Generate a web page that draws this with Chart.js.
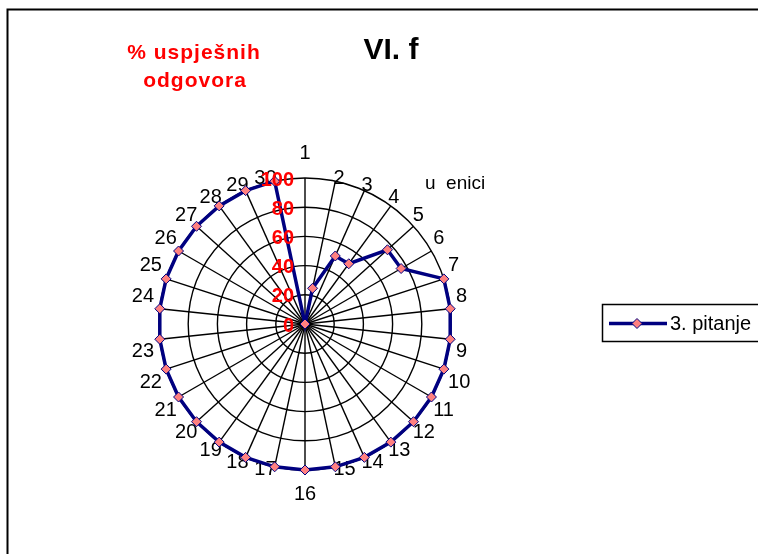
<!DOCTYPE html>
<html>
<head>
<meta charset="utf-8">
<title>VI. f</title>
<script src="https://cdn.jsdelivr.net/npm/chart.js@4.4.1/dist/chart.umd.min.js"></script>
<style>
  html, body { margin: 0; padding: 0; background: #fff; overflow: hidden; }
  canvas { display: block; }
</style>
</head>
<body>
<canvas id="radar" width="758" height="554"></canvas>
<script>
// data
const categories = ['1', '2', '3', '4', '5', '6', '7', '8', '9', '10',
  '11', '12', '13', '14', '15', '16', '17', '18', '19', '20',
  '21', '22', '23', '24', '25', '26', '27', '28', '29', '30'];
const seriesName = '3. pitanje';
const seriesValues = [0, 25, 51, 51, 76, 76, 100, 100, 100, 100,
  100, 100, 100, 100, 100, 100, 100, 100, 100, 100,
  100, 100, 100, 100, 100, 100, 100, 100, 100, 100];
const tickValues = [0, 20, 40, 60, 80, 100];
const chartTitle = 'VI. f';
const axisTitle = ['% uspješnih', 'odgovora'];
const seriesTitle = 'u  enici';

const FONT = 'Arial, "Liberation Sans", sans-serif';
const NAVY = '#000080';
const PINK = '#ff8080';

// Excel-like label placement: further out at top/bottom, tight elsewhere
function labelPadding(ctx) {
  const i = ctx.index;
  if (i === 0) return 13;
  if (i === categories.length / 2) return 12;
  const a = i * 2 * Math.PI / categories.length;
  return -10 + 16 * Math.sin(a) * Math.sin(a);
}

// red tick numbers left of the vertical spoke
const tickLabels = {
  id: 'tickLabels',
  afterDatasetsDraw(chart) {
    const s = chart.scales.r;
    const ctx = chart.ctx;
    ctx.save();
    ctx.font = 'bold 20px ' + FONT;
    ctx.fillStyle = '#ff0000';
    ctx.textAlign = 'right';
    ctx.textBaseline = 'middle';
    s.ticks.forEach(t => {
      const d = s.getDistanceFromCenterForValue(t.value);
      ctx.fillText(t.label, s.xCenter - 11, s.yCenter - d + 2);
    });
    ctx.restore();
  }
};

// frame, titles and the legend box
const decorations = {
  id: 'decorations',
  afterDraw(chart) {
    const ctx = chart.ctx;
    const ds = chart.data.datasets[0];
    ctx.save();
    ctx.strokeStyle = '#000';
    ctx.lineWidth = 2;
    ctx.strokeRect(7.5, 9.5, 1000, 1000);

    ctx.textBaseline = 'alphabetic';
    ctx.fillStyle = '#000';
    ctx.textAlign = 'center';
    ctx.font = 'bold 30px ' + FONT;
    ctx.fillText(chartTitle, 391, 59);

    ctx.fillStyle = '#ff0000';
    ctx.font = 'bold 21px ' + FONT;
    ctx.letterSpacing = '1px';
    ctx.fillText(axisTitle[0], 194, 59);
    ctx.fillText(axisTitle[1], 195, 87);
    ctx.letterSpacing = '0px';

    ctx.fillStyle = '#000';
    ctx.textAlign = 'left';
    ctx.font = '19px ' + FONT;
    ctx.fillText(seriesTitle, 425, 189);

    // legend
    ctx.lineWidth = 1.5;
    ctx.strokeRect(602.5, 304.5, 200, 37);
    ctx.strokeStyle = ds.borderColor;
    ctx.lineWidth = ds.borderWidth;
    ctx.beginPath();
    ctx.moveTo(609, 323.5);
    ctx.lineTo(667, 323.5);
    ctx.stroke();
    const r = ds.pointRadius;
    ctx.fillStyle = ds.pointBackgroundColor;
    ctx.strokeStyle = ds.pointBorderColor;
    ctx.lineWidth = ds.pointBorderWidth;
    ctx.beginPath();
    ctx.moveTo(637 - r, 323.5);
    ctx.lineTo(637, 323.5 - r);
    ctx.lineTo(637 + r, 323.5);
    ctx.lineTo(637, 323.5 + r);
    ctx.closePath();
    ctx.fill();
    ctx.stroke();
    ctx.fillStyle = '#000';
    ctx.font = '20px ' + FONT;
    ctx.textBaseline = 'middle';
    ctx.fillText(ds.label, 670, 324);
    ctx.restore();
  }
};

new Chart(document.getElementById('radar'), {
  type: 'radar',
  data: {
    labels: categories,
    datasets: [{
      label: seriesName,
      data: seriesValues,
      borderColor: NAVY,
      borderWidth: 3.5,
      fill: false,
      tension: 0,
      pointStyle: 'rectRot',
      pointRadius: 5,
      pointBackgroundColor: PINK,
      pointBorderColor: NAVY,
      pointBorderWidth: 1
    }]
  },
  options: {
    responsive: false,
    animation: false,
    layout: { padding: { left: 118, top: 141, right: 274, bottom: 47 } },
    plugins: {
      legend: { display: false },
      title: { display: false },
      tooltip: { enabled: false }
    },
    scales: {
      r: {
        min: 0,
        max: 100,
        afterBuildTicks: scale => {
          scale.ticks = tickValues.map(v => ({ value: v }));
        },
        ticks: { display: false },
        grid: { circular: true, color: '#000', lineWidth: 1.4 },
        angleLines: { color: '#000', lineWidth: 1.4 },
        pointLabels: {
          color: '#000',
          font: { family: FONT, size: 20 },
          padding: labelPadding
        }
      }
    }
  },
  plugins: [tickLabels, decorations]
});
</script>
</body>
</html>
